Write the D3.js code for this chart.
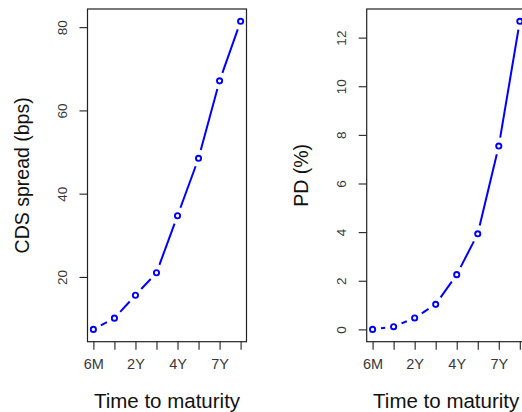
<!DOCTYPE html>
<html>
<head>
<meta charset="utf-8">
<script src="https://cdn.jsdelivr.net/npm/d3@7"></script>
<style>
  html, body { margin: 0; padding: 0; background: #fff; overflow: hidden; }
  svg { display: block; font-family: "Liberation Sans", Arial, sans-serif; }
</style>
</head>
<body>
<svg id="chart" width="522" height="412"></svg>
<script>
const maturities = ['6M', '1Y', '2Y', '3Y', '4Y', '5Y', '7Y', '10Y'];
const shownLabels = ['6M', '2Y', '4Y', '7Y'];
const cdsSpread = [7.4, 10.1, 15.6, 21.0, 34.7, 48.5, 67.1, 81.4];
const pdPercent = [0.0, 0.11, 0.47, 1.03, 2.25, 3.93, 7.54, 12.67];
const cdsTicks = [20, 40, 60, 80];
const pdTicks = [0, 2, 4, 6, 8, 10, 12];

const svg = d3.select('#chart');
const plotTop = 9, plotBottom = 341.7, boxW = 159;

function panel(left, values, ticks, yTitle, titleX) {
  const g = svg.append('g');
  // R style: extend range by 4% each side
  const [lo, hi] = d3.extent(values);
  const pad = (hi - lo) * 0.04;
  const y = d3.scaleLinear().domain([lo - pad, hi + pad]).range([plotBottom, plotTop]);
  const x = d3.scalePoint().domain(maturities).range([left, left + boxW]).padding(0.28);

  // box
  g.append('rect')
    .attr('x', left).attr('y', plotTop)
    .attr('width', boxW).attr('height', plotBottom - plotTop)
    .attr('fill', 'none').attr('stroke', '#222').attr('stroke-width', 1.2);

  // x axis
  const xa = g.append('g').attr('transform', `translate(0,${plotBottom})`)
    .call(d3.axisBottom(x).tickSize(8).tickSizeOuter(0).tickPadding(6)
      .tickFormat(d => shownLabels.includes(d) ? d : ''));
  xa.select('.domain').remove();
  xa.selectAll('line').attr('stroke', '#222').attr('stroke-width', 1.1);
  xa.selectAll('text').attr('font-size', '14.5px').attr('fill', '#383838')
    .attr('dy', '0.95em');

  // y axis
  const ya = g.append('g').attr('transform', `translate(${left},0)`)
    .call(d3.axisLeft(y).tickValues(ticks).tickSize(8).tickSizeOuter(0).tickFormat(d3.format('d')));
  ya.select('.domain').remove();
  ya.selectAll('line').attr('stroke', '#222').attr('stroke-width', 1.1);
  ya.selectAll('text')
    .attr('font-size', '13.5px').attr('fill', '#383838')
    .attr('x', null).attr('dy', null)
    .attr('text-anchor', 'middle')
    .attr('transform', `translate(-21,0) rotate(-90)`);

  // line segments with gaps around points (type = "b")
  const pts = values.map((v, i) => [x(maturities[i]), y(v)]);
  const gap = 8.5;
  const segs = d3.pairs(pts).map(([a, b]) => {
    const dx = b[0] - a[0], dy = b[1] - a[1];
    const len = Math.hypot(dx, dy);
    if (len <= 2 * gap) return null;
    const ux = dx / len, uy = dy / len;
    return [[a[0] + ux * gap, a[1] + uy * gap], [b[0] - ux * gap, b[1] - uy * gap]];
  }).filter(Boolean);
  g.append('g').selectAll('path').data(segs).join('path')
    .attr('d', d3.line())
    .attr('stroke', '#0000ff').attr('stroke-width', 2).attr('fill', 'none');

  g.append('g').selectAll('circle').data(pts).join('circle')
    .attr('cx', d => d[0]).attr('cy', d => d[1]).attr('r', 2.6)
    .attr('fill', 'none').attr('stroke', '#0000ff').attr('stroke-width', 1.9);

  // titles
  g.append('text')
    .attr('x', left + boxW / 2).attr('y', 407.5)
    .attr('text-anchor', 'middle').attr('font-size', '20.5px').attr('fill', '#111')
    .text('Time to maturity');
  g.append('text')
    .attr('transform', `translate(${titleX},${(plotTop + plotBottom) / 2}) rotate(-90)`)
    .attr('text-anchor', 'middle').attr('font-size', '19.5px').attr('fill', '#111')
    .text(yTitle);
}

panel(87.5, cdsSpread, cdsTicks, 'CDS spread (bps)', 29);
panel(366.7, pdPercent, pdTicks, 'PD (%)', 308);
</script>
</body>
</html>
